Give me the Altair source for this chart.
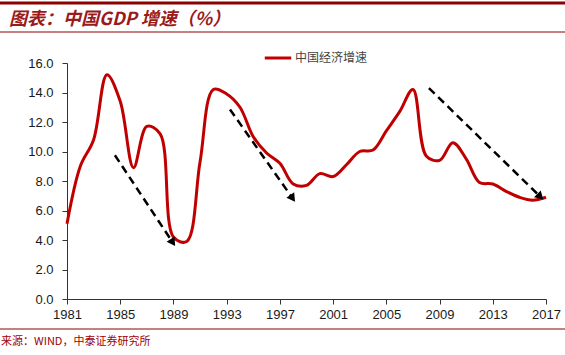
import math
import altair as alt
import pandas as pd

years = list(range(1981, 2018))
gdp = [5.1, 9.0, 10.8, 15.2, 13.4, 8.9, 11.7, 11.2, 4.2, 3.9,
       9.3, 14.2, 13.9, 13.0, 11.0, 9.9, 9.2, 7.8, 7.7, 8.5,
       8.3, 9.1, 10.0, 10.1, 11.4, 12.7, 14.2, 9.7, 9.4, 10.6,
       9.5, 7.9, 7.8, 7.3, 6.9, 6.7, 6.9]
series_name = "中国经济增速"

# trend arrows (start year, start value, end year, end value)
arrow_x0 = [1984.6, 1993.25, 2008.2]
arrow_y0 = [9.75, 12.85, 14.3]
arrow_x1 = [1988.9, 1997.9, 2016.5]
arrow_y1 = [3.9, 6.9, 7.0]

tick_years = list(range(1981, 2018, 4))
tick_values = [0, 2, 4, 6, 8, 10, 12, 14, 16]

W, H = 479, 236
XMIN, XMAX, YMIN, YMAX = 1981, 2017, 0, 16

df = pd.DataFrame({"year": years, "gdp": gdp, "series": series_name})

rows = []
heads = []
for i in range(len(arrow_x0)):
    rows.append({"id": i, "o": 0, "x": arrow_x0[i], "y": arrow_y0[i]})
    rows.append({"id": i, "o": 1, "x": arrow_x1[i], "y": arrow_y1[i]})
    dx = (arrow_x1[i] - arrow_x0[i]) * W / (XMAX - XMIN)
    dy = -(arrow_y1[i] - arrow_y0[i]) * H / (YMAX - YMIN)
    ang = math.degrees(math.atan2(dx, -dy)) % 360
    heads.append({"x": arrow_x1[i], "y": arrow_y1[i], "ang": ang})
arrows = pd.DataFrame(rows)
heads_df = pd.DataFrame(heads)

xscale = alt.Scale(domain=[XMIN, XMAX], nice=False, zero=False)
yscale = alt.Scale(domain=[YMIN, YMAX], nice=False)


def xaxis():
    return alt.Axis(values=tick_years, format="d", title=None, grid=False,
                    labelFont="Liberation Sans", labelFontSize=13, labelColor="#1a1a1a",
                    domainColor="#333333", tickColor="#333333", tickSize=5,
                    labelPadding=4, labelFlush=False, labelOverlap=False)


def yaxis():
    return alt.Axis(values=tick_values, format=".1f", title=None, grid=False,
                    labelFont="Liberation Sans", labelFontSize=13, labelColor="#1a1a1a",
                    domainColor="#333333", tickColor="#333333", tickSize=5,
                    labelPadding=9, labelOverlap=False, labelFlush=False)


line = alt.Chart(df).mark_line(interpolate="catmull-rom", strokeWidth=3).encode(
    x=alt.X("year:Q", scale=xscale, axis=xaxis()),
    y=alt.Y("gdp:Q", scale=yscale, axis=yaxis()),
    color=alt.Color("series:N", scale=alt.Scale(range=["#C00000"]),
                    legend=alt.Legend(title=None, orient="none", legendX=196, legendY=-20,
                                      symbolType="stroke", symbolSize=700,
                                      symbolStrokeWidth=3, labelFont="Noto Sans CJK SC",
                                      labelFontSize=12, labelColor="#444444",
                                      labelOffset=2)),
)

arrow_lines = alt.Chart(arrows).mark_line(color="black", strokeWidth=2.5,
                                          strokeDash=[8, 5]).encode(
    x=alt.X("x:Q", scale=xscale, axis=xaxis()),
    y=alt.Y("y:Q", scale=yscale, axis=yaxis()),
    detail="id:N",
    order="o:Q",
)

arrow_heads = alt.Chart(heads_df).mark_point(shape="triangle", filled=True, color="black",
                                             size=90, opacity=1).encode(
    x=alt.X("x:Q", scale=xscale, axis=xaxis()),
    y=alt.Y("y:Q", scale=yscale, axis=yaxis()),
    angle=alt.Angle("ang:Q", scale=None),
)

deco = pd.DataFrame({"k": [0]})
top_rule = alt.Chart(deco).mark_rule(color="#8B0000", strokeWidth=3).encode(
    x=alt.value(-67), x2=alt.value(498), y=alt.value(-60))
title_rule = alt.Chart(deco).mark_rule(color="#8B0000", strokeWidth=1).encode(
    x=alt.value(-67), x2=alt.value(498), y=alt.value(-31))
foot_rule = alt.Chart(deco).mark_rule(color="#8B0000", strokeWidth=1).encode(
    x=alt.value(-67), x2=alt.value(498), y=alt.value(266))

title_txt = alt.Chart(deco).mark_text(
    text="图表：中国GDP 增速（%）", align="left", baseline="alphabetic",
    font="Noto Sans CJK SC", fontSize=18, fontWeight="bold", fontStyle="italic",
    color="#9B1B1B").encode(x=alt.value(-58), y=alt.value(-38))
foot_txt = alt.Chart(deco).mark_text(
    text="来源：WIND，中泰证券研究所", align="left", baseline="middle",
    font="Noto Sans CJK SC", fontSize=11, color="#A00000").encode(
    x=alt.value(-66), y=alt.value(279))

chart = alt.layer(line, arrow_lines, arrow_heads, top_rule, title_rule, foot_rule,
                  title_txt, foot_txt).properties(
    width=W, height=H,
    background="white",
    autosize=alt.AutoSizeParams(type="none"),
    padding={"left": 67, "top": 63, "right": 19, "bottom": 56},
).configure_view(stroke=None)

chart.save("out.html", embed_options={"renderer": "svg", "actions": False})
